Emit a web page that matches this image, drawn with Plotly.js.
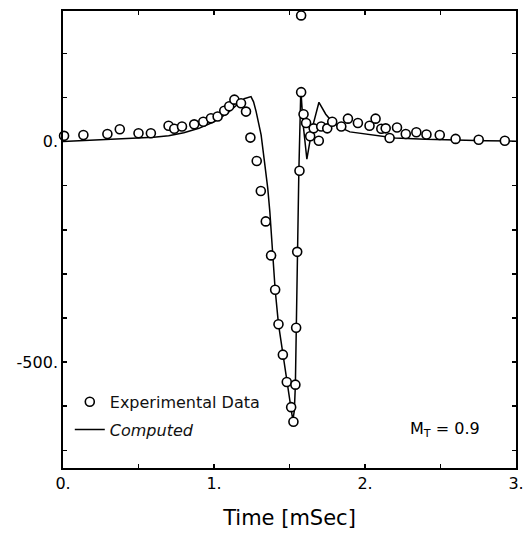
<!DOCTYPE html>
<html>
<head>
<meta charset="utf-8">
<script src="https://cdn.plot.ly/plotly-3.0.1.min.js"></script>
<style>
html,body{margin:0;padding:0;background:#fff;}
#chart{width:524px;height:537px;}
</style>
</head>
<body>
<div id="chart"></div>
<script>
// Experimental data (time in mSec, value)
var expTime = [0.007,0.135,0.294,0.376,0.5,0.582,0.699,0.737,0.788,0.869,0.929,0.98,1.024,1.068,1.101,1.135,1.179,1.212,1.241,1.283,1.31,1.343,1.378,1.405,1.427,1.456,1.482,1.511,1.526,1.539,1.544,1.551,1.566,1.577,1.593,1.61,1.637,1.66,1.694,1.71,1.75,1.783,1.843,1.887,1.953,2.03,2.07,2.108,2.137,2.163,2.212,2.27,2.34,2.407,2.495,2.6,2.753,2.926,1.577];
var expVal = [13,15,17,28,19,19,36,29,34,39,45,53,57,70,80,95,87,68,9,-44,-112,-181,-258,-336,-414,-483,-545,-602,-635,-551,-422,-250,-66,112,62,42,12,30,2,34,30,45,34,52,42,36,52,29,30,8,32,17,21,16,15,6,4,2,286];

// Computed curve
var compTime = [0,0.2,0.4,0.6,0.7,0.8,0.9,1.0,1.08,1.15,1.2,1.245,1.262,1.279,1.312,1.334,1.356,1.37,1.385,1.405,1.427,1.456,1.482,1.505,1.522,1.532,1.539,1.545,1.551,1.562,1.575,1.59,1.615,1.65,1.695,1.74,1.787,1.85,1.9,2.0,2.1,2.2,2.4,2.6,2.8,3.0];
var compVal = [0,3,6,10,13,20,30,45,62,82,97,102,90,68,15,-45,-106,-160,-240,-336,-414,-483,-545,-600,-632,-610,-551,-422,-250,-66,118,40,-40,30,89,62,43,30,22,17,12,8,5,3,2,1];

// Tick labels
var xTickVals = [0,1,2,3];
var xTickText = ['0.','1.','2.','3.'];
var yTickVals = [-500,0];
var yTickText = ['-500.','0.'];

var font = 'DejaVu Sans, Arial, sans-serif';

var traces = [
  {
    x: compTime, y: compVal, type: 'scatter', mode: 'lines',
    name: '<i>Computed</i>', legendgroup: 'b', legendrank: 2,
    line: {color: '#000', width: 1.5},
    showlegend: true
  },
  {
    x: expTime, y: expVal, type: 'scatter', mode: 'markers',
    name: 'Experimental Data', legendgroup: 'a', legendrank: 1,
    marker: {symbol: 'circle', size: 9, color: '#fff', line: {color: '#000', width: 1.6}},
    cliponaxis: false
  }
];

var layout = {
  width: 524, height: 537,
  margin: {l: 63, r: 8, t: 11, b: 69},
  paper_bgcolor: '#fff', plot_bgcolor: '#fff',
  font: {family: font, color: '#000', size: 16},
  showlegend: true,
  legend: {
    x: 0.015, y: 0.182, xanchor: 'left', yanchor: 'top',
    bgcolor: 'rgba(0,0,0,0)', font: {family: font, size: 16, color: '#111'},
    traceorder: 'grouped', tracegroupgap: 4
  },
  xaxis: {
    range: [0, 3], tickvals: xTickVals, ticktext: xTickText,
    ticks: 'inside', ticklen: 4, tickwidth: 1.5, tickcolor: '#000',
    minor: {dtick: 0.5, tick0: 0, ticks: 'inside', ticklen: 4, tickwidth: 1.5, tickcolor: '#000', showgrid: false},
    showline: true, linecolor: '#000', linewidth: 1.8, mirror: 'ticks',
    showgrid: false, zeroline: false,
    tickfont: {family: font, size: 16},
    title: {text: 'Time [mSec]', font: {family: font, size: 21}, standoff: 18}
  },
  yaxis: {
    range: [-740, 296], tickvals: yTickVals, ticktext: yTickText,
    ticks: 'inside', ticklen: 4, tickwidth: 1.5, tickcolor: '#000',
    minor: {dtick: 100, tick0: 0, ticks: 'inside', ticklen: 4, tickwidth: 1.5, tickcolor: '#000', showgrid: false},
    showline: true, linecolor: '#000', linewidth: 1.8, mirror: 'ticks',
    showgrid: false, zeroline: false,
    tickfont: {family: font, size: 16}
  },
  annotations: [
    {x: 2.53, y: -652, xref: 'x', yref: 'y', text: 'M<sub>T</sub> = 0.9', showarrow: false,
     font: {family: font, size: 16, color: '#000'}}
  ]
};

Plotly.newPlot('chart', traces, layout, {displayModeBar: false, staticPlot: true});
</script>
</body>
</html>
